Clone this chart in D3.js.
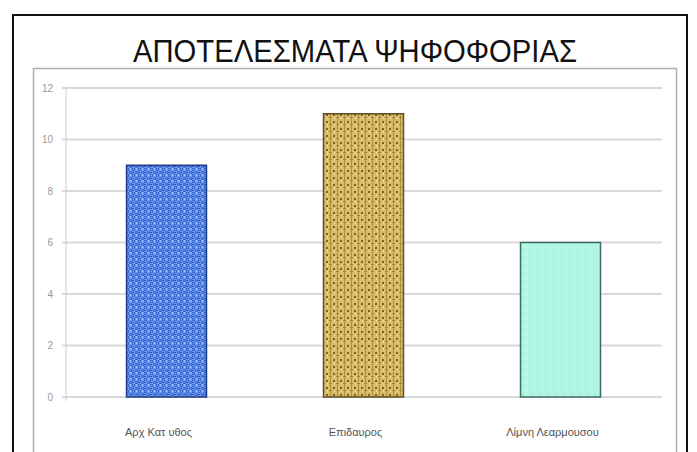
<!DOCTYPE html>
<html><head><meta charset="utf-8">
<script src="https://cdn.jsdelivr.net/npm/d3@7"></script>
<style>body{margin:0;background:#fff}svg{display:block}</style>
</head><body>
<script>
const categories = ["Αρχ Κατ υθος", "Επιδαυρος", "Λίμνη Λεαρμουσου"];
const values = [9, 11, 6];
const yTicks = [0, 2, 4, 6, 8, 10, 12];
const title = "ΑΠΟΤΕΛΕΣΜΑΤΑ ΨΗΦΟΦΟΡΙΑΣ";

const W = 697, H = 452;
const svg = d3.select("body").append("svg").attr("width", W).attr("height", H);
const defs = svg.append("defs");

function pat(id, base, size) {
  const p = defs.append("pattern").attr("id", id).attr("patternUnits", "userSpaceOnUse")
    .attr("width", size).attr("height", size);
  p.append("rect").attr("width", size).attr("height", size).attr("fill", base);
  return p;
}
function sq(p, x, y, w, h, c) { p.append("rect").attr("x", x).attr("y", y).attr("width", w).attr("height", h).attr("fill", c); }

const pb = pat("pBlue", "#6f98f0", 6);
sq(pb, 0, 0, 3, 3, "#3a68d4"); sq(pb, 3, 3, 3, 3, "#4575da");
sq(pb, 4, 0, 1, 2, "#a9c2f7"); sq(pb, 0, 4, 2, 1, "#2a55bd"); sq(pb, 1, 1, 1, 1, "#8fb0f4");

const pg = pat("pGold", "#d9bd6a", 7);
sq(pg, 1, 0, 1, 7, "#b0923e"); sq(pg, 4, 2, 2, 2, "#7c6326");
sq(pg, 0, 5, 3, 1, "#a48639"); sq(pg, 5, 5, 1, 2, "#efdc9c");

const pc = pat("pCyan", "#b2f7e6", 8);
sq(pc, 2, 1, 2, 2, "#97ecd6"); sq(pc, 6, 5, 1, 2, "#c8faee"); sq(pc, 0, 6, 2, 1, "#a0efdb");

const fills = ["url(#pBlue)", "url(#pGold)", "url(#pCyan)"];
const strokes = ["#1f3f8c", "#5e4f22", "#3d6a62"];

// outer frame
svg.append("rect").attr("x", 13).attr("y", 15).attr("width", 674).attr("height", 460)
  .attr("fill", "#fff").attr("stroke", "#111").attr("stroke-width", 2);

// title
svg.append("text").attr("x", 355).attr("y", 62).attr("text-anchor", "middle")
  .attr("font-family", "'Liberation Sans',Arial,sans-serif")
  .attr("font-size", 32).attr("fill", "#111")
  .attr("textLength", 444).attr("lengthAdjust", "spacingAndGlyphs")
  .text(title);

// inner plot border
svg.append("rect").attr("x", 33.5).attr("y", 68.5).attr("width", 643).attr("height", 400)
  .attr("fill", "#fff").attr("stroke", "#a9b1b3").attr("stroke-width", 1.5);

const x = d3.scaleBand().domain(categories).range([68, 659]).paddingInner(0.594).paddingOuter(0.297);
const y = d3.scaleLinear().domain([0, 12]).range([397, 88]);

// gridlines
svg.append("g").selectAll("line").data(yTicks).join("line")
  .attr("x1", 62).attr("x2", 662)
  .attr("y1", d => y(d)).attr("y2", d => y(d))
  .attr("stroke", "#d9d9d9").attr("stroke-width", 2);

// y axis line
svg.append("line").attr("x1", 66).attr("x2", 66).attr("y1", y(12)).attr("y2", y(0) + 4)
  .attr("stroke", "#d0d0d0").attr("stroke-width", 1);

// y tick labels
const yAxis = d3.axisLeft(y).tickValues(yTicks).tickSize(0).tickPadding(0);
const ga = svg.append("g").attr("transform", "translate(53,0)").call(yAxis);
ga.select(".domain").remove();
ga.selectAll("text").attr("font-family", "'Liberation Sans',sans-serif")
  .attr("font-size", 10).attr("fill", "#999").attr("text-anchor", "end");

// bars
svg.append("g").selectAll("rect").data(values).join("rect")
  .attr("x", (d, i) => x(categories[i]))
  .attr("y", d => y(d))
  .attr("width", x.bandwidth())
  .attr("height", d => y(0) - y(d))
  .attr("fill", (d, i) => fills[i])
  .attr("stroke", (d, i) => strokes[i]).attr("stroke-width", 1.5);

// x labels
const xAxis = d3.axisBottom(x).tickSize(0).tickPadding(0);
const gx = svg.append("g").attr("transform", "translate(-8,428)").call(xAxis);
gx.select(".domain").remove();
gx.selectAll("text").attr("font-family", "'Liberation Sans',sans-serif")
  .attr("font-size", 11).attr("fill", "#555");
</script>
</body></html>
